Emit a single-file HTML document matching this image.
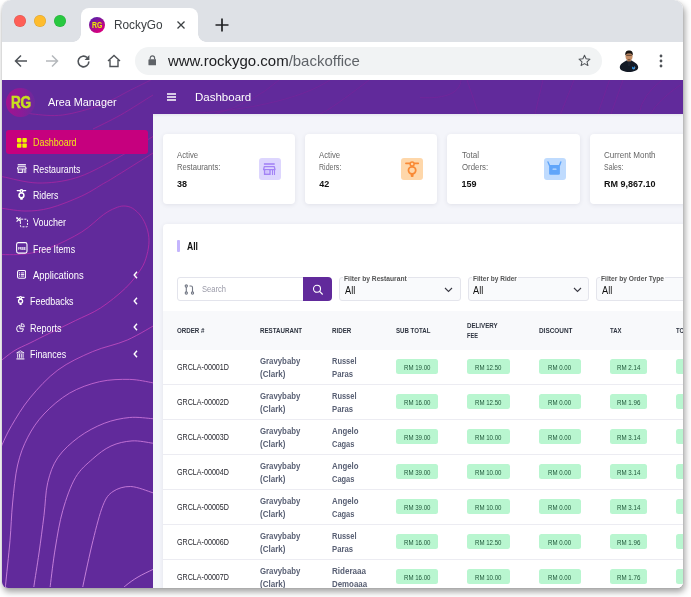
<!DOCTYPE html>
<html lang="en">
<head>
<meta charset="utf-8">
<title>RockyGo</title>
<style>
*{box-sizing:border-box;margin:0;padding:0}
html,body{width:691px;height:597px;overflow:hidden;background:#fff}
body{font-family:"Liberation Sans",sans-serif;position:relative;color:#222}
.win{position:absolute;left:2px;top:0;width:681.300px;height:587.700px;border-radius:9px 9px 6px 6px;overflow:hidden;background:#fff;z-index:2}
.shadow{position:absolute;left:2px;top:0;width:681.300px;height:587.700px;border-radius:9px 9px 6px 6px;box-shadow:1.500px 4px 6px rgba(0,0,0,.36),0 0 1px rgba(0,0,0,.25);z-index:1}
.abs{position:absolute}
.t{position:absolute;display:block;transform-origin:0 50%;white-space:nowrap}
.pg{position:absolute;height:14.800px;background:#b9f6d0;border-radius:2.500px}
/* chrome */
.tabbar{position:absolute;left:0;top:0;width:682px;height:42px;background:#dee1e6}
.dot{position:absolute;top:15.100px;width:12px;height:12px;border-radius:50%;box-shadow:inset 0 0 0 0.500px rgba(0,0,0,.14)}
.tab{position:absolute;left:79px;top:8px;width:117px;height:34px;background:#fff;border-radius:8px 8px 0 0}
.tab:before,.tab:after{content:"";position:absolute;bottom:0;width:8px;height:8px;background:radial-gradient(circle at 0 0,rgba(255,255,255,0) 7.5px,#fff 8px)}
.tab:before{left:-8px}
.tab:after{right:-8px;background:radial-gradient(circle at 100% 0,rgba(255,255,255,0) 7.5px,#fff 8px)}
.toolbar{position:absolute;left:0;top:42px;width:682px;height:38px;background:#fff}
.pill{position:absolute;left:133px;top:4.700px;width:467px;height:28.400px;border-radius:14.200px;background:#f1f3f4}
/* app */
.hdr{position:absolute;left:0;top:80px;width:682px;height:34px;background:#612a9b}
.side{position:absolute;left:0;top:80px;width:151px;height:510px;background:#612a9b;overflow:hidden}
.main{position:absolute;left:151px;top:114px;width:531px;height:476px;background:#f4f5fa;overflow:hidden}
.mi{position:absolute;left:31px;color:#fff;font-size:10.5px;line-height:12px;white-space:nowrap}
.chev{position:absolute;left:131px;width:6px;height:8px}
.card{position:absolute;top:19.600px;width:132.300px;height:70.300px;background:#fff;border-radius:4px;box-shadow:0 1px 4px rgba(60,60,90,.10)}
.card .l{position:absolute;left:14px;font-size:8.5px;color:#666;line-height:10px;white-space:nowrap}
.card .v{position:absolute;left:14px;top:44px;font-size:9px;font-weight:bold;color:#111;line-height:11px;white-space:nowrap}
.ico{position:absolute;left:96.400px;top:24.500px;width:22px;height:22px;border-radius:3px}
.panel{position:absolute;left:12px;top:110px;width:540px;height:380px;background:#fff;border-radius:4px;box-shadow:0 1px 4px rgba(60,60,90,.10)}
.thead{position:absolute;left:0;top:87px;width:540px;height:39px;background:#f8f9fb}
.th{position:absolute;font-size:7px;font-weight:bold;color:#333;line-height:10px;white-space:nowrap;letter-spacing:.1px}
.row{position:absolute;left:0;width:540px;height:35px;border-top:1px solid #ececf2}
.row .c{position:absolute;font-size:8px;line-height:12px;color:#333;white-space:nowrap}
.row .b{font-weight:bold;color:#555}
.pillg{position:absolute;top:10px;height:15px;background:#b9f5d0;border-radius:2px;font-size:7px;line-height:15px;color:#2c6b49;text-align:center;white-space:nowrap}
.sel{position:absolute;top:53.800px;height:23.400px;border:1px solid #e4e5ec;border-radius:3px;background:#f9fafc}
.sel .lab{position:absolute;left:4px;top:-5px;font-size:6.5px;font-weight:bold;color:#555;line-height:8px;white-space:nowrap}
.sel .val{position:absolute;left:5px;top:7px;font-size:9px;color:#222;line-height:10px}
</style>
</head>
<body>
<div class="shadow"></div>
<div class="win">
  <!-- browser chrome -->
  <div class="tabbar">
    <div class="dot" style="left:12px;background:#fe5f57"></div>
    <div class="dot" style="left:32px;background:#febc2e"></div>
    <div class="dot" style="left:52px;background:#28c840"></div>
    <div class="tab">
      <div class="abs" style="left:8px;top:9px;width:16px;height:16px;border-radius:50%;background:linear-gradient(150deg,#5a1fa8 10%,#d4007f 80%)"></div>
      <span class="t" style="left:10.800px;top:12.500px;font-size:8.400px;font-weight:bold;color:#eaf000;line-height:9px;transform:scaleX(.82)">RG</span>
      <span class="t" style="left:33px;top:8.600px;font-size:13px;color:#3c4043;line-height:15px;transform:scaleX(.91)">RockyGo</span>
      <svg class="abs" style="left:95px;top:12px" width="10" height="10" viewBox="0 0 10 10"><path d="M1.5 1.5L8.5 8.5M8.5 1.5L1.5 8.5" stroke="#3c4043" stroke-width="1.3" fill="none"/></svg>
    </div>
    <svg class="abs" style="left:213px;top:18px" width="14" height="14" viewBox="0 0 14 14"><path d="M7 0.5V13.5M0.5 7H13.5" stroke="#202124" stroke-width="1.7" fill="none"/></svg>
  </div>
  <div class="toolbar">
    <svg class="abs" style="left:12px;top:12px" width="14" height="14" viewBox="0 0 14 14"><path d="M13 7H2M7 1.5L1.5 7L7 12.500" stroke="#4f5358" stroke-width="1.5" fill="none"/></svg>
    <svg class="abs" style="left:43px;top:12px" width="14" height="14" viewBox="0 0 14 14"><path d="M1 7H12M7 1.5L12.500 7L7 12.500" stroke="#b5b8bc" stroke-width="1.5" fill="none"/></svg>
    <svg class="abs" style="left:73.500px;top:11.500px" width="15" height="15" viewBox="0 0 14 14"><path d="M12 7A5 5 0 1 1 10.400 3.300" stroke="#4f5358" stroke-width="1.5" fill="none"/><path d="M12.500 1V5.500H8z" fill="#4f5358"/></svg>
    <svg class="abs" style="left:105px;top:12px" width="14" height="14" viewBox="0 0 14 14"><path d="M1 7L7 1.500L13 7M3 6V12.500H11V6" stroke="#4f5358" stroke-width="1.4" fill="none"/></svg>
    <div class="pill">
      <svg class="abs" style="left:12.700px;top:8px" width="8.800" height="11" viewBox="0 0 10 12"><rect x="0.500" y="4.500" width="9" height="7" rx="1" fill="#5f6368"/><path d="M2.500 5V3.200A2.500 2.500 0 0 1 7.500 3.200V5" stroke="#5f6368" stroke-width="1.300" fill="none"/></svg>
      <div class="abs" style="left:33px;top:5px;font-size:15px;line-height:18px;color:#202124;white-space:nowrap;transform:scaleX(.998);transform-origin:0 50%">www.rockygo.com<span style="color:#5f6368">/backoffice</span></div>
      <svg class="abs" style="left:442.600px;top:7.400px" width="13" height="13" viewBox="0 0 14 14"><path d="M7 1.300L8.700 5.200L12.900 5.600L9.700 8.400L10.700 12.500L7 10.300L3.300 12.500L4.300 8.400L1.100 5.600L5.300 5.200Z" stroke="#4f5358" stroke-width="1.100" fill="none" stroke-linejoin="round"/></svg>
    </div>
    <!-- avatar -->
    <svg class="abs" style="left:614px;top:6px" width="26" height="26" viewBox="0 0 26 26"><path d="M3.800 19.500C3.800 15.600 8 14.200 10.200 12.500L15.800 12.500C18 14.200 22.200 15.600 22.200 19.500C22.200 22.300 17.500 24 13 24C8.500 24 3.800 22.300 3.800 19.500Z" fill="#131a26"/><rect x="11.400" y="10.500" width="3.400" height="3" fill="#a5734f"/><ellipse cx="13.050" cy="8.200" rx="3.500" ry="4.400" fill="#c48d66"/><path d="M9.300 7.600C8.800 3.500 11 2.300 13.100 2.400C15.200 2.300 17.300 3.500 16.800 7.600C16.300 6.100 15 5.500 13.050 5.500C11.100 5.500 9.800 6.100 9.300 7.600Z" fill="#1b1714"/><path d="M10.300 7.300H15.800" stroke="#3a2a20" stroke-width="1" opacity=".75"/><path d="M11.700 10.800Q13.050 11.800 14.400 10.800L14.200 12Q13.050 12.600 11.900 12Z" fill="#2a1f1a" opacity=".6"/><path d="M13 13.500V18" stroke="#2a3242" stroke-width="0.700"/><path d="M15.900 18.200L17.300 19.800L18.900 18L19 21L17.400 21.500L16.100 20.800Z" fill="#2b8fe0"/><path d="M18.600 20.500L19.300 19.600" stroke="#e08a2b" stroke-width="0.700"/></svg>
    <svg class="abs" style="left:657px;top:12px" width="4" height="14" viewBox="0 0 4 14"><circle cx="2" cy="2" r="1.400" fill="#4f5358"/><circle cx="2" cy="7" r="1.400" fill="#4f5358"/><circle cx="2" cy="12" r="1.400" fill="#4f5358"/></svg>
  </div>

  <!-- app header -->
  <div class="hdr">
    <svg class="abs" style="left:0;top:0" width="682" height="34" viewBox="0 0 682 34"><g fill="none" stroke="#78239b" stroke-width="0.800" opacity=".8"><path d="M418.0 17.6C446.0 19.0 458.0 12.0 459.0 0.0"/><path d="M465.0 0.0L476.6 34.0"/><path d="M541.0 0.0L533.0 34.0"/><path d="M572.0 0.0L558.6 34.0"/><path d="M607.5 0.0L595.7 34.0"/><path d="M621.0 0.0L609.0 34.0"/><path d="M660.0 0.0Q640.8 14.2 636.8 34.0"/><path d="M679.7 4.0Q655.9 20.0 648.5 34.0"/><path d="M277.0 0.0Q251.0 23.0 213.0 34.0"/><path d="M367.0 0.0Q329.5 29.0 318.0 34.0"/><path d="M178.0 34.0C238.0 32.0 298.0 20.0 328.0 0.0"/></g></svg>
    <svg class="abs" style="left:165px;top:13px" width="9" height="8" viewBox="0 0 9 8"><path d="M0 1H9M0 4H9M0 7H9" stroke="#fff" stroke-width="1.300"/></svg>
    <div class="abs" style="left:193px;top:10px;font-size:11.500px;line-height:14px;color:#fff">Dashboard</div>
  </div>

  <!-- sidebar -->
  <div class="side" id="side">
<svg class="abs" style="left:0;top:0" width="151" height="507" viewBox="0 0 151 507"><defs><linearGradient id="cg" gradientUnits="userSpaceOnUse" x1="0" y1="0" x2="0" y2="507"><stop offset="0" stop-color="#80269c"/><stop offset=".1" stop-color="#9a219c"/><stop offset=".45" stop-color="#b62fae"/><stop offset=".62" stop-color="#c670d6"/><stop offset="1" stop-color="#cf8be0"/></linearGradient></defs><g fill="none" stroke="url(#cg)" stroke-width="0.9">
<path d="M20 31C21.78 31.5 23.9 33.33 30.7 34C37.5 34.67 49.5 36.5 60.8 35C72.1 33.5 87.2 29.17 98.5 25C109.8 20.83 120.23 14.17 128.6 10C136.97 5.83 143.8 2.67 148.7 0C153.6 -2.67 156.45 -5 158 -6"/>
<path d="M91 49C95.6 46.67 108.6 40.67 118.6 35C128.6 29.33 143.6 19.5 151 15C158.4 10.5 161 9.17 163 8"/>
<path d="M-5 96C-4.08 96.12 -6.28 95.53 0.5 96.7C7.28 97.87 23.55 102.78 35.7 103C47.85 103.22 60.85 101.77 73.4 98C85.95 94.23 98.07 87.32 111 80.4C123.93 73.48 142.83 61.4 151 56.5C159.17 51.6 158.5 51.92 160 51"/>
<path d="M-5 127.5C-0.33 128.08 14.17 130.92 23 131C31.83 131.08 38.55 130.5 48 128C57.45 125.5 70.8 120.07 79.7 116C88.6 111.93 96.18 106.6 101.4 103.6C106.62 100.6 102.73 103.1 111 98C119.27 92.9 142.83 78.08 151 73C159.17 67.92 158.5 68.42 160 67.5"/>
<path d="M-5 174.5C-0.33 174.42 14.17 175.13 23 174C31.83 172.87 38.55 171.37 48 167.7C57.45 164.03 70.8 157.5 79.7 152C88.6 146.5 95.85 138.67 101.4 134.7C106.95 130.73 109.62 129.65 113 128.2C116.38 126.75 118.8 126 121.7 126C124.6 126 127.52 126.5 130.4 128.2C133.28 129.9 136.6 132.93 139 136.2C141.4 139.47 143.47 143.7 144.8 147.8C146.13 151.9 147 156.22 147 160.8C147 165.38 146.13 170.6 144.8 175.3C143.47 180 142.53 183.55 139 189C135.47 194.45 130.35 201.5 123.6 208C116.85 214.5 106.87 222.57 98.5 228C90.13 233.43 81.82 236.43 73.4 240.6C64.98 244.77 55.57 249.27 48 253C40.43 256.73 34.02 260 28 263C21.98 266 17.4 267.5 11.9 271C6.4 274.5 -2.18 281.83 -5 284"/>
<path d="M158 242C152.55 245 136.53 255.07 125.3 260C114.07 264.93 102.17 266.6 90.6 271.6C79.03 276.6 66.33 282.28 55.9 290C45.47 297.72 35.72 308.63 28 317.9C20.28 327.17 14.22 337.88 9.6 345.6C4.98 353.32 2.57 359.3 0.3 364.2C-1.97 369.1 -3.28 373.2 -4 375"/>
<path d="M158 304.5C156.8 304.22 155.87 303.65 150.8 302.8C145.73 301.95 136.48 299.58 127.6 299.4C118.72 299.22 107.53 299.4 97.5 301.7C87.47 304 76.65 307.82 67.4 313.2C58.15 318.58 48.93 326.67 42 334C35.07 341.33 30.2 348.7 25.8 357.2C21.4 365.7 18.13 374.03 15.6 385C13.07 395.97 11.87 410.42 10.6 423C9.33 435.58 9.18 446.72 8 460.5C6.82 474.28 4.33 497.12 3.5 505.7C2.67 514.28 3.08 510.95 3 512"/>
<path d="M158 339.5C156.8 339.37 155.87 339.03 150.8 338.7C145.73 338.37 135.7 336.73 127.6 337.5C119.5 338.27 110.68 340.02 102.2 343.3C93.72 346.58 84.43 351.48 76.7 357.2C68.97 362.92 60.97 370.02 55.8 377.6C50.63 385.18 48 393.07 45.7 402.7C43.4 412.33 43.45 423.68 42 435.4C40.55 447.12 38.67 461.28 37 473C35.33 484.72 32.92 499.2 32 505.7C31.08 512.2 31.58 510.95 31.5 512"/>
<path d="M158 364.5C156.8 364.28 155.47 363.8 150.8 363.2C146.13 362.6 136.97 360.43 130 360.9C123.03 361.37 115.57 362.98 109 366C102.43 369.02 96.53 373.72 90.6 379C84.67 384.28 78.37 389.13 73.4 397.7C68.43 406.27 64.15 418.68 60.8 430.4C57.45 442.12 55.38 455.45 53.3 468C51.22 480.55 49.18 498.37 48.3 505.7C47.42 513.03 48.05 510.95 48 512"/>
<path d="M158 415C156.83 414.63 155.88 414.22 151 412.8C146.12 411.38 135.37 406.72 128.7 406.5C122.03 406.28 115.62 408.37 111 411.5C106.38 414.63 104.33 417.13 101 425.3C97.67 433.47 94.33 447.1 91 460.5C87.67 473.9 82.75 497.12 81 505.7C79.25 514.28 80.58 510.95 80.5 512"/>
<path d="M158 486C156.83 486.57 154.67 487.57 151 489.4C147.33 491.23 140.57 494.28 136 497C131.43 499.72 126.6 503.2 123.6 505.7C120.6 508.2 118.93 510.95 118 512"/>
</g></svg>
<div class="abs" style="left:3.900px;top:7.600px;width:28.700px;height:29px;border-radius:50%;background:linear-gradient(90deg,#a3128f,#8a1c98 55%,#6a2a9c)"></div>
<span class="t" style="left:9.2px;top:12.6px;font-size:16px;line-height:20px;color:#c9e01e;font-weight:bold;transform:scaleX(0.85);letter-spacing:-0.500px;-webkit-text-stroke:0.500px #c9e01e;">RG</span>
<span class="t" style="left:45.5px;top:14.5px;font-size:11.5px;line-height:15px;color:#fff;transform:scaleX(0.94);">Area Manager</span>
<div class="abs" style="left:3.600px;top:49.700px;width:142px;height:24.400px;border-radius:3px;background:#c6007e"></div>
<span class="t" style="left:31px;top:56.2px;font-size:10px;line-height:13px;color:#f3e517;transform:scaleX(0.89);">Dashboard</span>
<span class="t" style="left:31px;top:82.6px;font-size:10px;line-height:13px;color:#fff;transform:scaleX(0.88);">Restaurants</span>
<span class="t" style="left:31px;top:109.1px;font-size:10px;line-height:13px;color:#fff;transform:scaleX(0.88);">Riders</span>
<span class="t" style="left:30.6px;top:135.7px;font-size:10px;line-height:13px;color:#fff;transform:scaleX(0.9);">Voucher</span>
<span class="t" style="left:31.2px;top:162.5px;font-size:10px;line-height:13px;color:#fff;transform:scaleX(0.88);">Free Items</span>
<span class="t" style="left:30.7px;top:189.1px;font-size:10px;line-height:13px;color:#fff;transform:scaleX(0.94);">Applications</span>
<span class="t" style="left:28.4px;top:215.2px;font-size:10px;line-height:13px;color:#fff;transform:scaleX(0.89);">Feedbacks</span>
<span class="t" style="left:28.4px;top:241.6px;font-size:10px;line-height:13px;color:#fff;transform:scaleX(0.9);">Reports</span>
<span class="t" style="left:28.4px;top:268.4px;font-size:10px;line-height:13px;color:#fff;transform:scaleX(0.89);">Finances</span>
<svg class="abs" style="left:131px;top:190.5px" width="5" height="8" viewBox="0 0 5 8"><path d="M4 0.800L1.200 4L4 7.200" stroke="#fff" stroke-width="1.400" fill="none"/></svg>
<svg class="abs" style="left:131px;top:216.8px" width="5" height="8" viewBox="0 0 5 8"><path d="M4 0.800L1.200 4L4 7.200" stroke="#fff" stroke-width="1.400" fill="none"/></svg>
<svg class="abs" style="left:131px;top:243.2px" width="5" height="8" viewBox="0 0 5 8"><path d="M4 0.800L1.200 4L4 7.200" stroke="#fff" stroke-width="1.400" fill="none"/></svg>
<svg class="abs" style="left:131px;top:269.8px" width="5" height="8" viewBox="0 0 5 8"><path d="M4 0.800L1.200 4L4 7.200" stroke="#fff" stroke-width="1.400" fill="none"/></svg>
<svg class="abs" style="left:15px;top:57.5px" width="10" height="10" viewBox="0 0 10 10"><g fill="#f2f000"><rect x="0" y="0" width="4.400" height="4.400" rx="0.800"/><rect x="5.400" y="0" width="4.400" height="4.400" rx="0.800"/><rect x="0" y="5.400" width="4.400" height="4.400" rx="0.800"/><rect x="5.400" y="5.400" width="4.400" height="4.400" rx="0.800"/></g></svg>
<svg class="abs" style="left:15px;top:83.8px" width="9.6" height="9.14" viewBox="0 0 12.600 12"><rect x="0.900" y="0.200" width="10.800" height="1.600" fill="#fff"/><path d="M1.300 3.600H11.300L12 6.600H0.600Z" fill="none" stroke="#fff" stroke-width="1.300" stroke-linejoin="round"/><path d="M1.600 7V11.200H7V7" fill="none" stroke="#fff" stroke-width="1.400"/><path d="M9.500 7V11.900M11.500 7V11.900" stroke="#fff" stroke-width="1.100"/><path d="M3 9H5.600" stroke="#fff" stroke-width="0.800" opacity=".6"/></svg>
<svg class="abs" style="left:14.4px;top:109.3px" width="10.8" height="11.48" viewBox="0 0 16 17"><g fill="none" stroke="#fff"><path d="M1.900 2.400H5.500M10.700 2.400H14.300" stroke-width="2.08" stroke-linecap="round"/><circle cx="8.100" cy="3.100" r="2" stroke-width="1.92" fill="none"/><rect x="4.500" y="5.800" width="7.200" height="7" rx="3.300" stroke-width="2.24" fill="none"/><rect x="6.31" y="12.800" width="3.68" height="3.200" rx="0.900" fill="#fff" stroke="none"/></g></svg>
<svg class="abs" style="left:14px;top:137px" width="12" height="10.5" viewBox="0 0 12 10.5"><g fill="none" stroke="#fff"><path d="M0.600 0.600L4.800 4.600M4.600 0.600L0.600 4.600" stroke-width="1.100"/><circle cx="1" cy="1" r="0.800" stroke-width="0.600"/><rect x="4.400" y="2.200" width="7.100" height="7.600" rx="0.800" stroke-width="0.950" stroke-dasharray="2 1.200"/></g></svg>
<svg class="abs" style="left:14.3px;top:162.3px" width="11.6" height="11.7" viewBox="0 0 11.6 11.7"><rect x="0.600" y="0.600" width="10.400" height="10.500" rx="1.800" fill="none" stroke="#fff" stroke-width="1.100"/></svg>
<span class="t" style="left:16.3px;top:165.8px;font-size:4px;line-height:5px;color:#fff;font-weight:bold;transform:scaleX(0.73);">FREE</span>
<svg class="abs" style="left:15.3px;top:190.2px" width="9.2" height="8.8" viewBox="0 0 9.2 8.8"><g fill="none" stroke="#fff"><rect x="0.550" y="0.550" width="8.100" height="7.700" rx="1.500" stroke-width="1.100"/><path d="M2 2.900H3M3.800 2.900H7.300M2 4.500H3M3.800 4.500H7.300M2 6.100H3M3.800 6.100H7.300" stroke-width="0.900"/></g></svg>
<svg class="abs" style="left:14.2px;top:216px" width="9" height="9.56" viewBox="0 0 16 17"><g fill="none" stroke="#fff"><path d="M1.900 2.400H5.500M10.700 2.400H14.300" stroke-width="2.21" stroke-linecap="round"/><circle cx="8.100" cy="3.100" r="2" stroke-width="2.04" fill="none"/><rect x="4.500" y="5.800" width="7.200" height="7" rx="3.300" stroke-width="2.38" fill="none"/><rect x="6.2" y="12.800" width="3.91" height="3.200" rx="0.900" fill="#fff" stroke="none"/></g></svg>
<svg class="abs" style="left:14.2px;top:242.8px" width="9" height="9.5" viewBox="0 0 9 9.5"><g fill="none" stroke="#fff" stroke-width="1"><path d="M4 2.400A3.400 3.400 0 1 0 7.400 5.800H4Z"/><path d="M5.300 0.600A3 3 0 0 1 8.400 3.700H5.300Z" stroke-width="0.900"/></g></svg>
<svg class="abs" style="left:14.4px;top:269.6px" width="8.8" height="10" viewBox="0 0 8.8 10"><g fill="none" stroke="#fff"><path d="M0.700 2.900L4.400 0.800L8.100 2.900Z" stroke-width="0.800" stroke-linejoin="round"/><path d="M1.700 3.800V7.800M3.500 3.800V7.800M5.300 3.800V7.800M7.100 3.800V7.800" stroke-width="0.900"/><path d="M0.400 8.900H8.400" stroke-width="1.100"/></g></svg>
  </div>

  <!-- main -->
  <div class="main" id="main">
<div class="abs" style="left:0;top:0;width:531px;height:3px;background:linear-gradient(#e6e6ef,#f4f5fa)"></div>
<div class="card" style="left:9.7px">
<span class="t" style="left:14.3px;top:16.4px;font-size:8.5px;line-height:11px;color:#666;transform:scaleX(0.91);">Active</span>
<span class="t" style="left:14.3px;top:28.9px;font-size:8.5px;line-height:11px;color:#666;transform:scaleX(0.9);">Restaurants:</span>
<span class="t" style="left:14.3px;top:44.6px;font-size:9px;line-height:12px;color:#111;font-weight:bold;">38</span>
<div class="ico" style="background:#ddd6fe"></div>
</div>
<div class="card" style="left:152px">
<span class="t" style="left:14.3px;top:16.4px;font-size:8.5px;line-height:11px;color:#666;transform:scaleX(0.91);">Active</span>
<span class="t" style="left:14.3px;top:28.9px;font-size:8.5px;line-height:11px;color:#666;transform:scaleX(0.83);">Riders:</span>
<span class="t" style="left:14.3px;top:44.6px;font-size:9px;line-height:12px;color:#111;font-weight:bold;">42</span>
<div class="ico" style="background:#fed7aa"></div>
</div>
<div class="card" style="left:294.3px">
<span class="t" style="left:14.3px;top:16.4px;font-size:8.5px;line-height:11px;color:#666;transform:scaleX(0.95);">Total</span>
<span class="t" style="left:14.3px;top:28.9px;font-size:8.5px;line-height:11px;color:#666;transform:scaleX(0.92);">Orders:</span>
<span class="t" style="left:14.3px;top:44.6px;font-size:9px;line-height:12px;color:#111;font-weight:bold;">159</span>
<div class="ico" style="background:#bfdbfe"></div>
</div>
<div class="card" style="left:436.6px">
<span class="t" style="left:14.3px;top:16.4px;font-size:8.5px;line-height:11px;color:#666;transform:scaleX(0.95);">Current Month</span>
<span class="t" style="left:14.3px;top:28.9px;font-size:8.5px;line-height:11px;color:#666;transform:scaleX(0.82);">Sales:</span>
<span class="t" style="left:14.3px;top:44.6px;font-size:9px;line-height:12px;color:#111;font-weight:bold;">RM 9,867.10</span>
</div>
<svg class="abs" style="left:110.3px;top:49px" width="12.6" height="12" viewBox="0 0 12.600 12"><rect x="0.900" y="0.200" width="10.800" height="1.600" fill="#a383f5"/><path d="M1.300 3.600H11.300L12 6.600H0.600Z" fill="none" stroke="#a383f5" stroke-width="1.300" stroke-linejoin="round"/><path d="M1.600 7V11.200H7V7" fill="none" stroke="#a383f5" stroke-width="1.400"/><path d="M9.500 7V11.900M11.500 7V11.900" stroke="#a383f5" stroke-width="1.100"/><path d="M3 9H5.600" stroke="#a383f5" stroke-width="0.800" opacity=".6"/></svg>
<svg class="abs" style="left:251px;top:47px" width="16" height="17" viewBox="0 0 16 17"><g fill="none" stroke="#f98a35"><path d="M1.900 2.400H5.500M10.700 2.400H14.300" stroke-width="1.62" stroke-linecap="round"/><circle cx="8.100" cy="3.100" r="2" stroke-width="1.5" fill="#fed7aa"/><rect x="4.500" y="5.800" width="7.200" height="7" rx="3.300" stroke-width="1.75" fill="#fed7aa"/><rect x="6.71" y="12.800" width="2.88" height="3.200" rx="0.900" fill="#f98a35" stroke="none"/></g></svg>
<svg class="abs" style="left:394px;top:47px" width="15" height="15" viewBox="0 0 15 15"><path d="M1 1L2.400 4.300M13.800 1L12.600 4.300" fill="none" stroke="#60a5fa" stroke-width="1.400" stroke-linecap="round"/><path d="M2.100 4.100H12.900V12.600Q12.900 13.800 11.700 13.800H3.300Q2.100 13.800 2.100 12.600Z" fill="#60a5fa"/><rect x="5.500" y="7.400" width="4.100" height="1.400" rx="0.600" fill="#bfdbfe"/></svg>
<div class="panel" style="left:10px;top:109.500px">
<div class="abs" style="left:14.200px;top:16.500px;width:2.500px;height:12px;border-radius:1px;background:#c4b5fd"></div>
<span class="t" style="left:23.5px;top:15.9px;font-size:10.5px;line-height:14px;color:#111;font-weight:bold;transform:scaleX(0.82);">All</span>
<div class="abs" style="left:14px;top:53.600px;width:127px;height:23.600px;border:1px solid #e3e4ec;border-radius:3px 0 0 3px;background:#fff"></div>
<div class="abs" style="left:140.400px;top:53.600px;width:28.600px;height:23.600px;border-radius:0 4px 4px 0;background:#612a9b"></div>
<svg class="abs" style="left:148.5px;top:60px" width="12" height="12" viewBox="0 0 12 12"><circle cx="5" cy="4.800" r="3.500" fill="none" stroke="#fff" stroke-width="1.100"/><path d="M7.600 7.400L10.700 10.500" stroke="#fff" stroke-width="1.200"/></svg>
<svg class="abs" style="left:20.5px;top:60.5px" width="11" height="11" viewBox="0 0 11 11"><g fill="none" stroke="#737885" stroke-width="1.100"><circle cx="2.300" cy="2" r="1.100"/><circle cx="2.300" cy="9" r="1.100"/><circle cx="8.500" cy="9" r="1.100"/><path d="M2.300 3.100V7.900"/><path d="M8.500 7.900V3.500Q8.500 2 7 2H5.500"/></g></svg>
<span class="t" style="left:39px;top:60.8px;font-size:8.5px;line-height:11px;color:#9a9aa8;transform:scaleX(0.89);">Search</span>
<div class="sel" style="left:176px;width:122.2px"></div>
<div class="abs" style="left:180.3px;top:52.5px;width:64.7px;height:4px;background:linear-gradient(#fff 55%,#f9fafc 55%)"></div>
<span class="t" style="left:181.3px;top:50.6px;font-size:7.5px;line-height:10px;color:#555;font-weight:bold;transform:scaleX(0.89);">Filter by Restaurant</span>
<span class="t" style="left:181.6px;top:60.4px;font-size:10px;line-height:13px;color:#111;transform:scaleX(0.92);">All</span>
<svg class="abs" style="left:281.3px;top:63px" width="9" height="6" viewBox="0 0 9 6"><path d="M1 1L4.500 4.500L8 1" fill="none" stroke="#3a3a44" stroke-width="1.100"/></svg>
<div class="sel" style="left:305.3px;width:120.9px"></div>
<div class="abs" style="left:309px;top:52.5px;width:46px;height:4px;background:linear-gradient(#fff 55%,#f9fafc 55%)"></div>
<span class="t" style="left:310px;top:50.6px;font-size:7.5px;line-height:10px;color:#555;font-weight:bold;transform:scaleX(0.87);">Filter by Rider</span>
<span class="t" style="left:310.3px;top:60.4px;font-size:10px;line-height:13px;color:#111;transform:scaleX(0.92);">All</span>
<svg class="abs" style="left:410.3px;top:63px" width="9" height="6" viewBox="0 0 9 6"><path d="M1 1L4.500 4.500L8 1" fill="none" stroke="#3a3a44" stroke-width="1.100"/></svg>
<div class="sel" style="left:433.2px;width:123.8px"></div>
<div class="abs" style="left:437.2px;top:52.5px;width:65.2px;height:4px;background:linear-gradient(#fff 55%,#f9fafc 55%)"></div>
<span class="t" style="left:438.2px;top:50.6px;font-size:7.5px;line-height:10px;color:#555;font-weight:bold;transform:scaleX(0.89);">Filter by Order Type</span>
<span class="t" style="left:438.5px;top:60.4px;font-size:10px;line-height:13px;color:#111;transform:scaleX(0.92);">All</span>
<div class="thead" style="top:87.200px"></div>
<span class="t" style="left:14px;top:102.5px;font-size:7.2px;line-height:9px;color:#2e3440;font-weight:bold;transform:scaleX(0.86);">ORDER #</span>
<span class="t" style="left:97px;top:102.5px;font-size:7.2px;line-height:9px;color:#2e3440;font-weight:bold;transform:scaleX(0.86);">RESTAURANT</span>
<span class="t" style="left:169px;top:102.5px;font-size:7.2px;line-height:9px;color:#2e3440;font-weight:bold;transform:scaleX(0.86);">RIDER</span>
<span class="t" style="left:233px;top:102.5px;font-size:7.2px;line-height:9px;color:#2e3440;font-weight:bold;transform:scaleX(0.85);">SUB TOTAL</span>
<span class="t" style="left:304px;top:97.3px;font-size:7.2px;line-height:9px;color:#2e3440;font-weight:bold;transform:scaleX(0.86);">DELIVERY</span>
<span class="t" style="left:304px;top:107.2px;font-size:7.2px;line-height:9px;color:#2e3440;font-weight:bold;transform:scaleX(0.79);">FEE</span>
<span class="t" style="left:375.5px;top:102.5px;font-size:7.2px;line-height:9px;color:#2e3440;font-weight:bold;transform:scaleX(0.89);">DISCOUNT</span>
<span class="t" style="left:447.3px;top:102.5px;font-size:7.2px;line-height:9px;color:#2e3440;font-weight:bold;transform:scaleX(0.83);">TAX</span>
<span class="t" style="left:513.2px;top:102.5px;font-size:7.2px;line-height:9px;color:#2e3440;font-weight:bold;transform:scaleX(0.82);">TOTAL</span>
<span class="t" style="left:14px;top:138.7px;font-size:8.3px;line-height:11px;color:#1f1f27;transform:scaleX(0.86);">GRCLA-00001D</span>
<span class="t" style="left:96.8px;top:132.45px;font-size:8.3px;line-height:11px;color:#596074;font-weight:bold;transform:scaleX(0.94);">Gravybaby</span>
<span class="t" style="left:96.8px;top:145.2px;font-size:8.3px;line-height:11px;color:#596074;font-weight:bold;transform:scaleX(0.97);">(Clark)</span>
<span class="t" style="left:168.6px;top:132.45px;font-size:8.3px;line-height:11px;color:#596074;font-weight:bold;transform:scaleX(0.9);">Russel</span>
<span class="t" style="left:168.6px;top:145.2px;font-size:8.3px;line-height:11px;color:#596074;font-weight:bold;transform:scaleX(0.93);">Paras</span>
<div class="pg" style="left:232.6px;top:135.7px;width:42.7px"></div>
<span class="t" style="left:240.75px;top:139.1px;font-size:7.2px;line-height:9px;color:#1e5638;transform:scaleX(0.85);">RM 19.00</span>
<div class="pg" style="left:304.3px;top:135.7px;width:42.5px"></div>
<span class="t" style="left:312.35px;top:139.1px;font-size:7.2px;line-height:9px;color:#1e5638;transform:scaleX(0.85);">RM 12.50</span>
<div class="pg" style="left:375.8px;top:135.7px;width:42.3px"></div>
<span class="t" style="left:385.45px;top:139.1px;font-size:7.2px;line-height:9px;color:#1e5638;transform:scaleX(0.85);">RM 0.00</span>
<div class="pg" style="left:447.3px;top:135.7px;width:36.8px"></div>
<span class="t" style="left:454.05px;top:139.1px;font-size:7.2px;line-height:9px;color:#1e5638;transform:scaleX(0.86);">RM 2.14</span>
<div class="pg" style="left:513.2px;top:135.7px;width:42.5px"></div>
<span class="t" style="left:521.25px;top:139.1px;font-size:7.2px;line-height:9px;color:#1e5638;transform:scaleX(0.85);">RM 33.64</span>
<div class="abs" style="left:0;top:160.7px;width:540px;height:1px;background:#ececf2"></div>
<span class="t" style="left:14px;top:173.7px;font-size:8.3px;line-height:11px;color:#1f1f27;transform:scaleX(0.86);">GRCLA-00002D</span>
<span class="t" style="left:96.8px;top:167.45px;font-size:8.3px;line-height:11px;color:#596074;font-weight:bold;transform:scaleX(0.94);">Gravybaby</span>
<span class="t" style="left:96.8px;top:180.2px;font-size:8.3px;line-height:11px;color:#596074;font-weight:bold;transform:scaleX(0.97);">(Clark)</span>
<span class="t" style="left:168.6px;top:167.45px;font-size:8.3px;line-height:11px;color:#596074;font-weight:bold;transform:scaleX(0.9);">Russel</span>
<span class="t" style="left:168.6px;top:180.2px;font-size:8.3px;line-height:11px;color:#596074;font-weight:bold;transform:scaleX(0.93);">Paras</span>
<div class="pg" style="left:232.6px;top:170.7px;width:42.7px"></div>
<span class="t" style="left:240.75px;top:174.1px;font-size:7.2px;line-height:9px;color:#1e5638;transform:scaleX(0.85);">RM 16.00</span>
<div class="pg" style="left:304.3px;top:170.7px;width:42.5px"></div>
<span class="t" style="left:312.35px;top:174.1px;font-size:7.2px;line-height:9px;color:#1e5638;transform:scaleX(0.85);">RM 12.50</span>
<div class="pg" style="left:375.8px;top:170.7px;width:42.3px"></div>
<span class="t" style="left:385.45px;top:174.1px;font-size:7.2px;line-height:9px;color:#1e5638;transform:scaleX(0.85);">RM 0.00</span>
<div class="pg" style="left:447.3px;top:170.7px;width:36.8px"></div>
<span class="t" style="left:454.05px;top:174.1px;font-size:7.2px;line-height:9px;color:#1e5638;transform:scaleX(0.86);">RM 1.96</span>
<div class="pg" style="left:513.2px;top:170.7px;width:42.5px"></div>
<span class="t" style="left:521.25px;top:174.1px;font-size:7.2px;line-height:9px;color:#1e5638;transform:scaleX(0.85);">RM 30.46</span>
<div class="abs" style="left:0;top:195.7px;width:540px;height:1px;background:#ececf2"></div>
<span class="t" style="left:14px;top:208.7px;font-size:8.3px;line-height:11px;color:#1f1f27;transform:scaleX(0.86);">GRCLA-00003D</span>
<span class="t" style="left:96.8px;top:202.45px;font-size:8.3px;line-height:11px;color:#596074;font-weight:bold;transform:scaleX(0.94);">Gravybaby</span>
<span class="t" style="left:96.8px;top:215.2px;font-size:8.3px;line-height:11px;color:#596074;font-weight:bold;transform:scaleX(0.97);">(Clark)</span>
<span class="t" style="left:168.6px;top:202.45px;font-size:8.3px;line-height:11px;color:#596074;font-weight:bold;transform:scaleX(0.94);">Angelo</span>
<span class="t" style="left:168.6px;top:215.2px;font-size:8.3px;line-height:11px;color:#596074;font-weight:bold;transform:scaleX(0.9);">Cagas</span>
<div class="pg" style="left:232.6px;top:205.7px;width:42.7px"></div>
<span class="t" style="left:240.75px;top:209.1px;font-size:7.2px;line-height:9px;color:#1e5638;transform:scaleX(0.85);">RM 39.00</span>
<div class="pg" style="left:304.3px;top:205.7px;width:42.5px"></div>
<span class="t" style="left:312.35px;top:209.1px;font-size:7.2px;line-height:9px;color:#1e5638;transform:scaleX(0.85);">RM 10.00</span>
<div class="pg" style="left:375.8px;top:205.7px;width:42.3px"></div>
<span class="t" style="left:385.45px;top:209.1px;font-size:7.2px;line-height:9px;color:#1e5638;transform:scaleX(0.85);">RM 0.00</span>
<div class="pg" style="left:447.3px;top:205.7px;width:36.8px"></div>
<span class="t" style="left:454.05px;top:209.1px;font-size:7.2px;line-height:9px;color:#1e5638;transform:scaleX(0.86);">RM 3.14</span>
<div class="pg" style="left:513.2px;top:205.7px;width:42.5px"></div>
<span class="t" style="left:521.25px;top:209.1px;font-size:7.2px;line-height:9px;color:#1e5638;transform:scaleX(0.85);">RM 52.14</span>
<div class="abs" style="left:0;top:230.7px;width:540px;height:1px;background:#ececf2"></div>
<span class="t" style="left:14px;top:243.7px;font-size:8.3px;line-height:11px;color:#1f1f27;transform:scaleX(0.86);">GRCLA-00004D</span>
<span class="t" style="left:96.8px;top:237.45px;font-size:8.3px;line-height:11px;color:#596074;font-weight:bold;transform:scaleX(0.94);">Gravybaby</span>
<span class="t" style="left:96.8px;top:250.2px;font-size:8.3px;line-height:11px;color:#596074;font-weight:bold;transform:scaleX(0.97);">(Clark)</span>
<span class="t" style="left:168.6px;top:237.45px;font-size:8.3px;line-height:11px;color:#596074;font-weight:bold;transform:scaleX(0.94);">Angelo</span>
<span class="t" style="left:168.6px;top:250.2px;font-size:8.3px;line-height:11px;color:#596074;font-weight:bold;transform:scaleX(0.9);">Cagas</span>
<div class="pg" style="left:232.6px;top:240.7px;width:42.7px"></div>
<span class="t" style="left:240.75px;top:244.1px;font-size:7.2px;line-height:9px;color:#1e5638;transform:scaleX(0.85);">RM 39.00</span>
<div class="pg" style="left:304.3px;top:240.7px;width:42.5px"></div>
<span class="t" style="left:312.35px;top:244.1px;font-size:7.2px;line-height:9px;color:#1e5638;transform:scaleX(0.85);">RM 10.00</span>
<div class="pg" style="left:375.8px;top:240.7px;width:42.3px"></div>
<span class="t" style="left:385.45px;top:244.1px;font-size:7.2px;line-height:9px;color:#1e5638;transform:scaleX(0.85);">RM 0.00</span>
<div class="pg" style="left:447.3px;top:240.7px;width:36.8px"></div>
<span class="t" style="left:454.05px;top:244.1px;font-size:7.2px;line-height:9px;color:#1e5638;transform:scaleX(0.86);">RM 3.14</span>
<div class="pg" style="left:513.2px;top:240.7px;width:42.5px"></div>
<span class="t" style="left:521.25px;top:244.1px;font-size:7.2px;line-height:9px;color:#1e5638;transform:scaleX(0.85);">RM 52.14</span>
<div class="abs" style="left:0;top:265.7px;width:540px;height:1px;background:#ececf2"></div>
<span class="t" style="left:14px;top:278.7px;font-size:8.3px;line-height:11px;color:#1f1f27;transform:scaleX(0.86);">GRCLA-00005D</span>
<span class="t" style="left:96.8px;top:272.45px;font-size:8.3px;line-height:11px;color:#596074;font-weight:bold;transform:scaleX(0.94);">Gravybaby</span>
<span class="t" style="left:96.8px;top:285.2px;font-size:8.3px;line-height:11px;color:#596074;font-weight:bold;transform:scaleX(0.97);">(Clark)</span>
<span class="t" style="left:168.6px;top:272.45px;font-size:8.3px;line-height:11px;color:#596074;font-weight:bold;transform:scaleX(0.94);">Angelo</span>
<span class="t" style="left:168.6px;top:285.2px;font-size:8.3px;line-height:11px;color:#596074;font-weight:bold;transform:scaleX(0.9);">Cagas</span>
<div class="pg" style="left:232.6px;top:275.7px;width:42.7px"></div>
<span class="t" style="left:240.75px;top:279.1px;font-size:7.2px;line-height:9px;color:#1e5638;transform:scaleX(0.85);">RM 39.00</span>
<div class="pg" style="left:304.3px;top:275.7px;width:42.5px"></div>
<span class="t" style="left:312.35px;top:279.1px;font-size:7.2px;line-height:9px;color:#1e5638;transform:scaleX(0.85);">RM 10.00</span>
<div class="pg" style="left:375.8px;top:275.7px;width:42.3px"></div>
<span class="t" style="left:385.45px;top:279.1px;font-size:7.2px;line-height:9px;color:#1e5638;transform:scaleX(0.85);">RM 0.00</span>
<div class="pg" style="left:447.3px;top:275.7px;width:36.8px"></div>
<span class="t" style="left:454.05px;top:279.1px;font-size:7.2px;line-height:9px;color:#1e5638;transform:scaleX(0.86);">RM 3.14</span>
<div class="pg" style="left:513.2px;top:275.7px;width:42.5px"></div>
<span class="t" style="left:521.25px;top:279.1px;font-size:7.2px;line-height:9px;color:#1e5638;transform:scaleX(0.85);">RM 52.14</span>
<div class="abs" style="left:0;top:300.7px;width:540px;height:1px;background:#ececf2"></div>
<span class="t" style="left:14px;top:313.7px;font-size:8.3px;line-height:11px;color:#1f1f27;transform:scaleX(0.86);">GRCLA-00006D</span>
<span class="t" style="left:96.8px;top:307.45px;font-size:8.3px;line-height:11px;color:#596074;font-weight:bold;transform:scaleX(0.94);">Gravybaby</span>
<span class="t" style="left:96.8px;top:320.2px;font-size:8.3px;line-height:11px;color:#596074;font-weight:bold;transform:scaleX(0.97);">(Clark)</span>
<span class="t" style="left:168.6px;top:307.45px;font-size:8.3px;line-height:11px;color:#596074;font-weight:bold;transform:scaleX(0.9);">Russel</span>
<span class="t" style="left:168.6px;top:320.2px;font-size:8.3px;line-height:11px;color:#596074;font-weight:bold;transform:scaleX(0.93);">Paras</span>
<div class="pg" style="left:232.6px;top:310.7px;width:42.7px"></div>
<span class="t" style="left:240.75px;top:314.1px;font-size:7.2px;line-height:9px;color:#1e5638;transform:scaleX(0.85);">RM 16.00</span>
<div class="pg" style="left:304.3px;top:310.7px;width:42.5px"></div>
<span class="t" style="left:312.35px;top:314.1px;font-size:7.2px;line-height:9px;color:#1e5638;transform:scaleX(0.85);">RM 12.50</span>
<div class="pg" style="left:375.8px;top:310.7px;width:42.3px"></div>
<span class="t" style="left:385.45px;top:314.1px;font-size:7.2px;line-height:9px;color:#1e5638;transform:scaleX(0.85);">RM 0.00</span>
<div class="pg" style="left:447.3px;top:310.7px;width:36.8px"></div>
<span class="t" style="left:454.05px;top:314.1px;font-size:7.2px;line-height:9px;color:#1e5638;transform:scaleX(0.86);">RM 1.96</span>
<div class="pg" style="left:513.2px;top:310.7px;width:42.5px"></div>
<span class="t" style="left:521.25px;top:314.1px;font-size:7.2px;line-height:9px;color:#1e5638;transform:scaleX(0.85);">RM 30.46</span>
<div class="abs" style="left:0;top:335.7px;width:540px;height:1px;background:#ececf2"></div>
<span class="t" style="left:14px;top:348.7px;font-size:8.3px;line-height:11px;color:#1f1f27;transform:scaleX(0.86);">GRCLA-00007D</span>
<span class="t" style="left:96.8px;top:342.45px;font-size:8.3px;line-height:11px;color:#596074;font-weight:bold;transform:scaleX(0.94);">Gravybaby</span>
<span class="t" style="left:96.8px;top:355.2px;font-size:8.3px;line-height:11px;color:#596074;font-weight:bold;transform:scaleX(0.97);">(Clark)</span>
<span class="t" style="left:168.6px;top:342.45px;font-size:8.3px;line-height:11px;color:#596074;font-weight:bold;transform:scaleX(0.97);">Rideraaa</span>
<span class="t" style="left:168.6px;top:355.2px;font-size:8.3px;line-height:11px;color:#596074;font-weight:bold;transform:scaleX(0.95);">Demoaaa</span>
<div class="pg" style="left:232.6px;top:345.7px;width:42.7px"></div>
<span class="t" style="left:240.75px;top:349.1px;font-size:7.2px;line-height:9px;color:#1e5638;transform:scaleX(0.85);">RM 16.00</span>
<div class="pg" style="left:304.3px;top:345.7px;width:42.5px"></div>
<span class="t" style="left:312.35px;top:349.1px;font-size:7.2px;line-height:9px;color:#1e5638;transform:scaleX(0.85);">RM 10.00</span>
<div class="pg" style="left:375.8px;top:345.7px;width:42.3px"></div>
<span class="t" style="left:385.45px;top:349.1px;font-size:7.2px;line-height:9px;color:#1e5638;transform:scaleX(0.85);">RM 0.00</span>
<div class="pg" style="left:447.3px;top:345.7px;width:36.8px"></div>
<span class="t" style="left:454.05px;top:349.1px;font-size:7.2px;line-height:9px;color:#1e5638;transform:scaleX(0.86);">RM 1.76</span>
<div class="pg" style="left:513.2px;top:345.7px;width:42.5px"></div>
<span class="t" style="left:521.25px;top:349.1px;font-size:7.2px;line-height:9px;color:#1e5638;transform:scaleX(0.85);">RM 27.76</span>
</div>
  </div>
  <!-- endmain -->
</div>
</body>
</html>
